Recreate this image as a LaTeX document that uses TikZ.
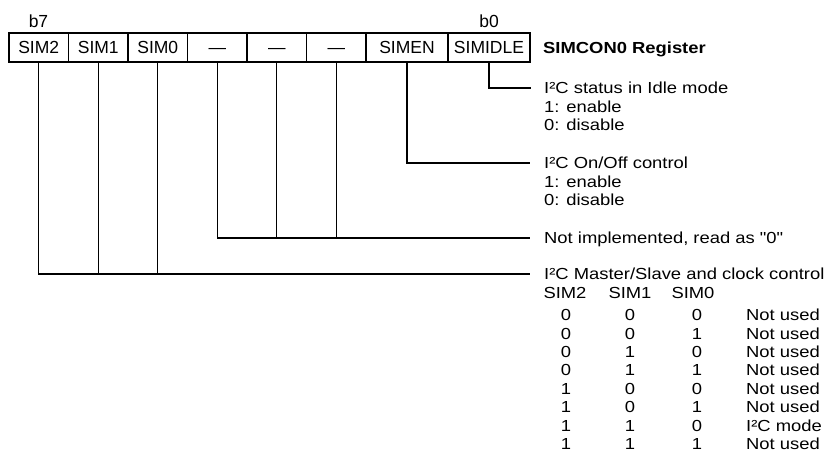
\documentclass[tikz,border=0pt]{standalone}
\usepackage{fontspec}
\setmainfont{Liberation Sans}
\newfontfamily\descfont{Liberation Sans}[FakeStretch=1.15]
\begin{document}
\begin{tikzpicture}[x=1pt,y=-1pt,
  cell/.style={draw, line width=1.3pt, minimum height=29pt, inner sep=0pt,
    font=\fontsize{17.5}{20}\selectfont, text height=12.5pt, text depth=0pt},
  bitlbl/.style={inner sep=0pt, font=\fontsize{17.5}{20}\selectfont, text height=12.5pt, text depth=0pt},
  desc/.style={anchor=west, inner sep=0pt, text height=11.5pt, text depth=0pt,
    font=\descfont\fontsize{16}{18}\selectfont},
  tab/.style={inner sep=0pt, text height=11.5pt, text depth=0pt,
    font=\descfont\fontsize{16}{18}\selectfont},
  conn/.style={line width=1.2pt}]
\useasboundingbox (0,0) rectangle (828,452);

% register cells
\node[cell, minimum width=59.5pt] (c7) at (38.75,47.5) {SIM2};
\node[cell, minimum width=59.5pt] (c6) at (98.25,47.5) {SIM1};
\node[cell, minimum width=59.5pt] (c5) at (157.75,47.5) {SIM0};
\node[cell, minimum width=59.5pt] (c4) at (217.25,47.5) {—};
\node[cell, minimum width=59.5pt] (c3) at (276.75,47.5) {—};
\node[cell, minimum width=59.5pt] (c2) at (336.25,47.5) {—};
\node[cell, minimum width=82pt] (c1) at (407,47.5) {SIMEN};
\node[cell, minimum width=82pt] (c0) at (489,47.5) {SIMIDLE};

\node[bitlbl] (b7) at (38.5,21) {b7};
\node[bitlbl] (b0) at (489,21) {b0};
\node[desc, font=\descfont\bfseries\fontsize{16}{18}\selectfont] (title) at (543,48) {SIMCON0 Register};

% descriptions
\node[desc] (l0a) at (544,88) {I²C status in Idle mode};
\node[desc] (l0b) at (544,106.5) {1: enable};
\node[desc] (l0c) at (544,125) {0: disable};

\node[desc] (l1a) at (544,163) {I²C On/Off control};
\node[desc] (l1b) at (544,181.5) {1: enable};
\node[desc] (l1c) at (544,200) {0: disable};

\node[desc] (ni) at (544,238) {Not implemented, read as "0"};

\node[desc] (ms) at (544,274) {I²C Master/Slave and clock control};
\node[tab] (h2) at (565,292.3) {SIM2};
\node[tab] (h1) at (630,292.3) {SIM1};
\node[tab] (h0) at (693,292.3) {SIM0};

\foreach \a/\b/\c/\t [count=\i from 0] in
  {0/0/0/Not used, 0/0/1/Not used, 0/1/0/Not used, 0/1/1/Not used,
   1/0/0/Not used, 1/0/1/Not used, 1/1/0/I²C mode, 1/1/1/Not used}{
  \node[tab] (r\i a) at (566,315+18.4*\i) {\a};
  \node[tab] (r\i b) at (630,315+18.4*\i) {\b};
  \node[tab] (r\i c) at (697,315+18.4*\i) {\c};
  \node[desc] (r\i t) at (746,315+18.4*\i) {\t};
}

% connectors
\draw[conn] (c0.south) |- ([xshift=-13pt]l0a.west);
\draw[conn] (c1.south) |- ([xshift=-14pt]l1a.west);
\draw[conn] (c4.south) |- ([xshift=-14pt]ni.west);
\draw[conn] (c3.south) -- (c3.south |- ni.west);
\draw[conn] (c2.south) -- (c2.south |- ni.west);
\draw[conn] (c7.south) |- ([xshift=-14pt]ms.west);
\draw[conn] (c6.south) -- (c6.south |- ms.west);
\draw[conn] (c5.south) -- (c5.south |- ms.west);
\end{tikzpicture}
\end{document}
